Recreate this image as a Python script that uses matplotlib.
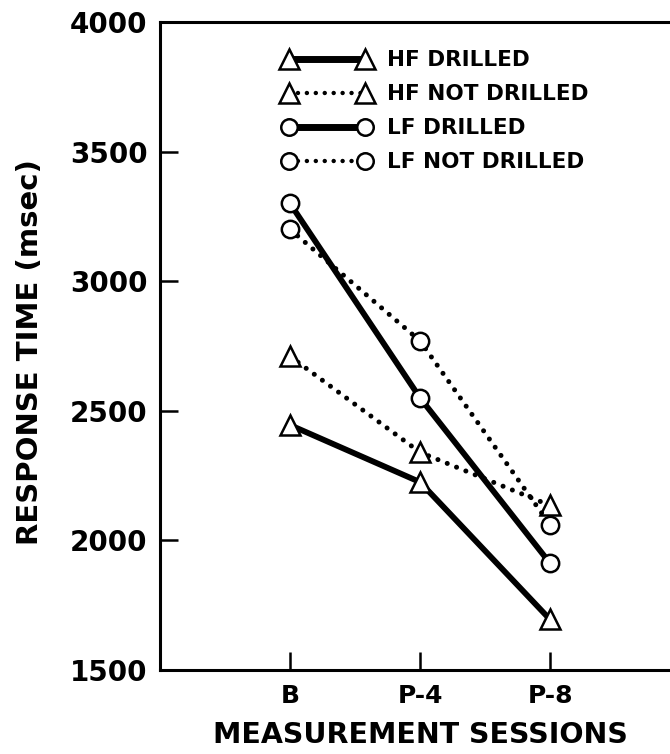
import matplotlib
matplotlib.use("Agg")
import matplotlib.pyplot as plt
from matplotlib.lines import Line2D

plt.rcParams["font.family"] = "DejaVu Sans"
plt.rcParams["font.weight"] = "bold"

sessions = ["B", "P-4", "P-8"]
hf_drilled = [2445, 2225, 1695]
hf_not_drilled = [2710, 2340, 2135]
lf_drilled = [3300, 2550, 1912]
lf_not_drilled = [3200, 2770, 2060]

x = [1, 2, 3]
dots = (0, (0.01, 2.0))

fig = plt.figure(figsize=(6.7, 7.54), dpi=100)
ax = fig.add_axes([160 / 670, 84 / 754, 520 / 670, 648 / 754])

series = [
    (hf_drilled, "^", "-", 15, "HF DRILLED"),
    (hf_not_drilled, "^", dots, 15, "HF NOT DRILLED"),
    (lf_drilled, "o", "-", 12.5, "LF DRILLED"),
    (lf_not_drilled, "o", dots, 12.5, "LF NOT DRILLED"),
]
handles = []
for vals, mk, ls, ms, lab in series:
    lw = 4.2 if ls == "-" else 3.6
    ax.plot(x, vals, color="black", linestyle=ls, linewidth=lw,
            dash_capstyle="round", marker=mk, markersize=ms,
            markerfacecolor="white", markeredgecolor="black",
            markeredgewidth=1.8)
    handles.append(Line2D([0], [0], color="black", linestyle=ls,
                          linewidth=5 if ls == "-" else 3.2,
                          dash_capstyle="round", marker=mk,
                          markersize=ms * 0.95, markerfacecolor="white",
                          markeredgecolor="black", markeredgewidth=1.8,
                          label=lab))

ax.set_xlim(0, 4)
ax.set_ylim(1500, 4000)
ax.set_xticks(x)
ax.set_xticklabels(sessions)
ax.set_yticks([1500, 2000, 2500, 3000, 3500, 4000])

for s in ["left", "bottom", "top"]:
    ax.spines[s].set_linewidth(2.2)
ax.spines["right"].set_visible(False)

ax.tick_params(axis="both", direction="in", length=13, width=1.8,
               labelsize=20)
ax.tick_params(axis="y", pad=9)
ax.tick_params(axis="x", pad=10, labelsize=18)
ax.tick_params(axis="y", which="both", right=False)
ax.tick_params(axis="x", top=False)

ax.set_xlabel("MEASUREMENT SESSIONS", fontsize=20.5, fontweight="bold",
              va="center")
ax.set_ylabel("RESPONSE TIME (msec)", fontsize=21, fontweight="bold",
              va="center")
ax.yaxis.set_label_coords(-0.25, 0.49)
ax.xaxis.set_label_coords(0.5, -0.1)

ax.legend(handles=handles, loc="upper left", bbox_to_anchor=(0.198, 0.986),
          frameon=False, numpoints=2, handlelength=4.15, handletextpad=0.72,
          labelspacing=0.65, prop={"size": 15.5, "weight": "bold"})

fig.savefig("out.png", dpi=100)
